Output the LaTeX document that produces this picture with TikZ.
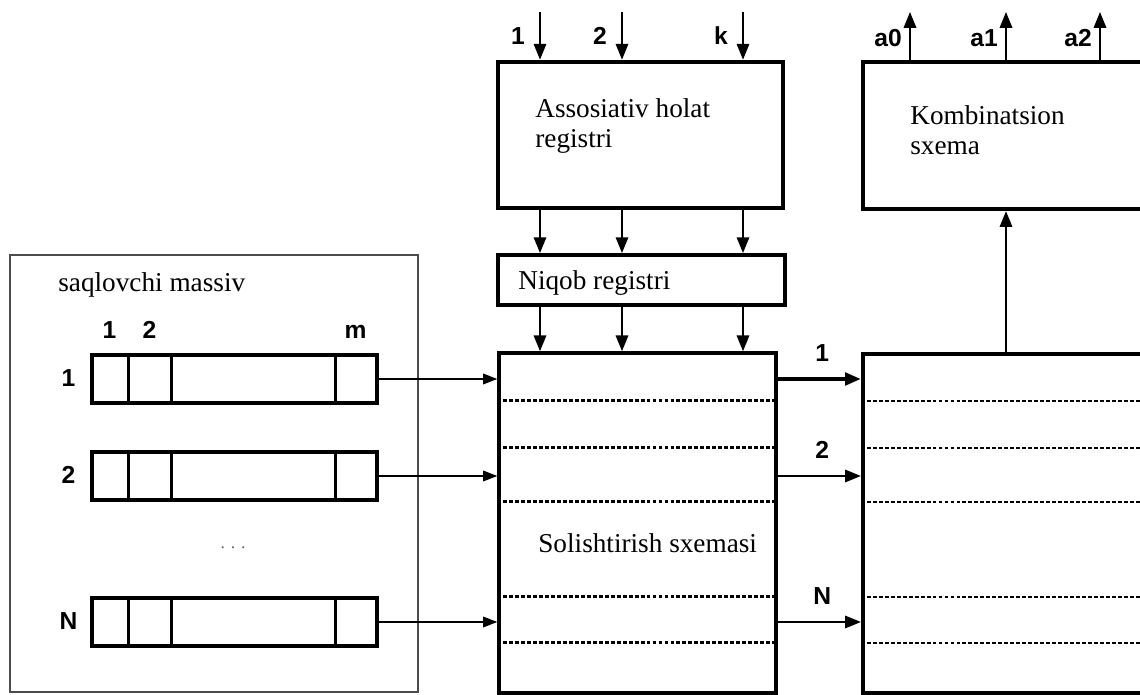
\documentclass[tikz,border=0pt]{standalone}
\usepackage{fontspec}
\setmainfont{Liberation Serif}
\newfontfamily\labfont{Liberation Sans}
\usetikzlibrary{arrows.meta,positioning,calc}

\begin{document}
\begin{tikzpicture}[x=0.02cm, y=-0.02cm,
    blk/.style={draw, line width=2pt, inner sep=0pt},
    cell/.style={line width=1.5pt},
    txt/.style={font=\fontsize{15.5}{17}\selectfont, inner sep=0pt},
    lab/.style={font=\labfont\bfseries\fontsize{14}{16}\selectfont, inner sep=0pt, anchor=base},
    sig/.style={-{Triangle[length=9pt,width=7pt]}, line width=1.3pt},
    thinsig/.style={-{Triangle[length=8pt,width=6pt]}, line width=0.9pt},
    sepline/.style={line width=1.6pt, dash pattern=on 2.2pt off 1.2pt},
    >=Stealth
]
\useasboundingbox (0,0) rectangle (1140,695);
\clip (0,0) rectangle (1140,695);

% storage array
\node[blk, draw=black!70, line width=1.4pt, minimum width=8.16cm, minimum height=8.74cm] (storage) at (214,473.5) {};
\node[txt, anchor=base west] (stname) at (58,292) {saqlovchi massiv};

\foreach \r/\y/\lab in {row1/379/1, row2/476/2, rowN/622/N} {
    \node[blk, line width=1.8pt, minimum width=5.7cm, minimum height=0.96cm] (\r) at (234.5,\y) {};
    \node[lab] at ($(\r.west)+(-22,8)$) {\lab};
    \foreach \d in {38,81,245}
        \draw[cell] ($(\r.north west)+(\d,0)$) -- ($(\r.south west)+(\d,0)$);
}
\foreach \d/\lab in {19/1, 59/2, 265/m}
    \node[lab] at ($(row1.north west)+(\d,-15)$) {\lab};
\node[font=\fontsize{10}{11}\selectfont, text=black!60] (vdots) at (233,548) {. . .};

% registers and comparison scheme
\node[blk, line width=2.6pt, minimum width=5.7cm, minimum height=2.92cm] (assoc) at (640.5,135) {};
\node[txt, align=left, anchor=north west] (assoctxt) at (535,98.5) {Assosiativ holat\\registri};

\node[blk, line width=2.2pt, minimum width=5.74cm, minimum height=1cm] (mask) at (641.5,280) {};
\node[txt, anchor=base west] (masktxt) at (518,290) {Niqob registri};

\node[blk, minimum width=5.54cm, minimum height=6.8cm] (cmp) at (637.5,523) {};
\node[txt, anchor=base west] (cmptxt) at (538,553) {Solishtirish sxemasi};

% combination scheme and match register
\node[blk, line width=2.4pt, minimum width=6.74cm, minimum height=2.94cm] (comb) at (1031.5,135.5) {};
\node[txt, align=left, anchor=north west] (combtxt) at (910,105.3) {Kombinatsion\\sxema};

\node[blk, line width=2.4pt, minimum width=6.74cm, minimum height=6.78cm] (match) at (1031.5,523.5) {};

% separators
\foreach \d in {49,96,150,245,291} {
    \draw[sepline] ($(cmp.north west)+(0,\d)$) -- ($(cmp.north east)+(0,\d)$);
    \draw[sepline] ($(match.north west)+(0,\d)$) -- ($(match.north east)+(0,\d)$);
}

% inputs -> assoc -> mask -> cmp
\foreach \n/\x/\lab in {a/540/1, b/622/2, c/743/k} {
    \coordinate (in\n) at (\x,12);
    \node[lab] at ($(in\n)+(-22,33)$) {\lab};
    \draw[sig] (in\n) -- (in\n |- assoc.north);
    \draw[sig] (in\n |- assoc.south) -- (in\n |- mask.north);
    \draw[sig] (in\n |- mask.south) -- (in\n |- cmp.north);
}

% comb -> outputs
\foreach \n/\x/\lab in {a/910/a0, b/1006/a1, c/1100/a2} {
    \coordinate (out\n) at (\x,12);
    \node[lab] at ($(out\n)+(-22,35)$) {\lab};
    \draw[sig] (out\n |- comb.north) -- (out\n);
}

% rows -> cmp -> match
\foreach \r/\lab/\w in {row1/1/2.2pt, row2/2/1.3pt, rowN/N/1.3pt} {
    \draw[thinsig] (\r.east) -- (\r.east -| cmp.west);
    \draw[sig, line width=\w] (\r.east -| cmp.east) -- (\r.east -| match.west);
    \node[lab] at ($(\r.east -| cmp.east)!0.5!(\r.east -| match.west)+(3,-17)$) {\lab};
}

% match -> comb
\coordinate (up) at (1006,0);
\draw[sig] (up |- match.north) -- (up |- comb.south);
\end{tikzpicture}
\end{document}
